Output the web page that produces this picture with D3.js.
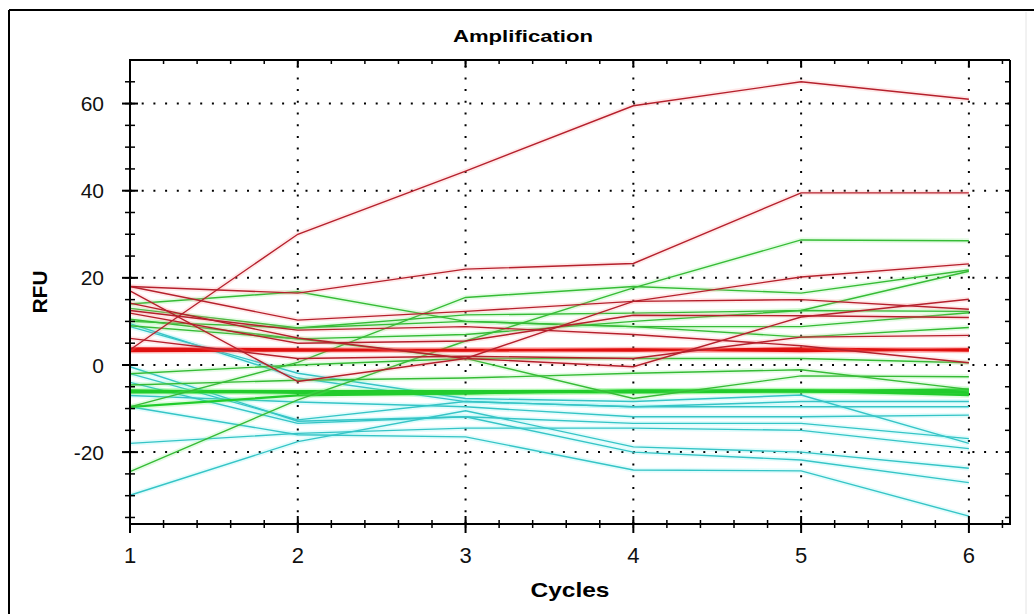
<!DOCTYPE html>
<html><head><meta charset="utf-8">
<script src="https://cdn.jsdelivr.net/npm/d3@7"></script>
<style>html,body{margin:0;padding:0;background:#fff;}svg{display:block;}</style>
</head><body>
<script>
// ---- data ----
const cycles = [1, 2, 3, 4, 5, 6];
const xTickLabels = ["1", "2", "3", "4", "5", "6"];
const yTickValues = [-20, 0, 20, 40, 60];
const title = "Amplification";
const xLabel = "Cycles";
const yLabel = "RFU";

const redLines = [
  [3.5, 30, 44.5, 59.5, 65, 61],
  [18, 16.5, 22, 23.3, 39.5, 39.5],
  [17, -3.8, 1.5, 14.6, 20.2, 23.2],
  [18, 10.3, 12.3, 14.6, 15, 12.8],
  [14.2, 6.2, 1.5, -0.4, 11, 15.1],
  [11.9, 5, 5.5, 11.4, 11.3, 10.9],
  [6.1, 1.5, 2, 1.5, 6.4, 6.8],
  [12.5, 8, 8.8, 7, 4.4, 0.5]
];
const redBundle = [
  [3.5, 3.5, 3.5, 3.5, 3.4, 3.5],
  [3.2, 3.3, 3.4, 3.3, 3.8, 3.3],
  [3.8, 3.6, 3.3, 3.6, 3.2, 3.6]
];
const greenLines = [
  [-24.5, -8, 5.5, 17.7, 28.7, 28.5],
  [14, 16.8, 10, 8.8, 6.4, 8.6],
  [-9.6, 0.6, 15.5, 18, 16.5, 21.8],
  [10, 8.5, 11.5, 11.9, 12.5, 21.5],
  [9, 6, 7, 10, 12.5, 12.3],
  [13, 8.5, 10, 8.8, 8.8, 12],
  [10.5, 6, 1.5, -7.7, -2.5, -2.7],
  [-2, 0, 1.5, 1.5, 1.5, 0.5],
  [-4.6, -3.5, -3, -1.9, -1.1, -5.6]
];
const greenBundle = [
  [-6, -6, -6, -6, -6, -5.6],
  [-6.3, -6.2, -6.1, -6.3, -6.1, -6.4],
  [-5.8, -6.4, -6.5, -5.8, -5.9, -6.9],
  [-9.6, -7, -6.5, -6, -5.8, -6]
];
const cyanLines = [
  [8.8, -1.9, -7.7, -8.4, -6.9, -18],
  [9.5, -3, -8.4, -9.6, -8.4, -8.4],
  [-7, -8.5, -9.6, -11.9, -11.9, -11.5],
  [-4, -13.4, -11.9, -13.4, -13.4, -16.9],
  [-18, -15.7, -14.5, -14.5, -15, -19.2],
  [-29.9, -17.6, -10.5, -18.8, -20, -23.7],
  [-0.4, -12.9, -11.9, -20, -21.8, -27],
  [-9.6, -16, -16.5, -24.1, -24.3, -34.7],
  [-2, -12.6, -8.4, -9.6, -9.6, -9.6]
];

// ---- layout ----
const W = 1034, H = 614;
const L = 130, R = 1010, T = 60, B = 524;
const svg = d3.select("body").append("svg").attr("width", W).attr("height", H);
svg.append("rect").attr("width", W).attr("height", H).attr("fill", "#fff");

// outer border
svg.append("line").attr("x1", 9).attr("x2", 9).attr("y1", 10).attr("y2", H).attr("stroke", "#000").attr("stroke-width", 2);
svg.append("line").attr("x1", 9).attr("x2", W).attr("y1", 10).attr("y2", 10).attr("stroke", "#000").attr("stroke-width", 2);
svg.append("line").attr("x1", 1026).attr("x2", 1026).attr("y1", 12).attr("y2", H).attr("stroke", "#e4e4e4").attr("stroke-width", 1);

const x = d3.scaleLinear().domain([1, 6.245]).range([L, R]);
const y = d3.scaleLinear().domain([-36.5, 70]).range([B, T]);

// grid (dotted)
const grid = svg.append("g");
grid.selectAll("line.gy").data(yTickValues).join("line")
  .attr("x1", L).attr("x2", R).attr("y1", d => y(d)).attr("y2", d => y(d))
  .attr("stroke", "#000").attr("stroke-width", 2).attr("stroke-dasharray", "2 9.7");
grid.selectAll("line.gx").data(cycles.slice(1)).join("line")
  .attr("y1", B).attr("y2", T).attr("x1", d => x(d)).attr("x2", d => x(d))
  .attr("stroke", "#000").attr("stroke-width", 2).attr("stroke-dasharray", "2 9.7");

// lines
const line = d3.line().x((d, i) => x(cycles[i])).y(d => y(d));
function drawSet(data, color, halo, w) {
  const g = svg.append("g").attr("fill", "none");
  g.selectAll("path.h").data(data).join("path").attr("d", line)
    .attr("stroke", halo).attr("stroke-width", w + 3.5).attr("stroke-opacity", 0.2);
  g.selectAll("path.c").data(data).join("path").attr("d", line)
    .attr("stroke", color).attr("stroke-width", w);
}
drawSet(cyanLines, "#35c4c6", "#6ff0f2", 1.4);
drawSet(greenBundle, "#22cc2c", "#60f060", 2.2);
drawSet(greenLines, "#36bb36", "#78ee78", 1.4);
drawSet(redBundle, "#e0100f", "#ff6060", 2.2);
drawSet(redLines, "#b5202c", "#ff8f8f", 1.4);

// frame
const frame = svg.append("g").attr("stroke", "#000").attr("stroke-width", 2);
frame.append("line").attr("x1", L).attr("x2", R).attr("y1", T).attr("y2", T);
frame.append("line").attr("x1", R).attr("x2", R).attr("y1", T).attr("y2", B);

// axes
const xMinor = d3.range(1, 6.25, 0.2);
const yMinor = d3.range(-35, 70, 5);
const ax = svg.append("g").attr("stroke", "#000");
ax.append("line").attr("x1", L).attr("x2", R + 1).attr("y1", B).attr("y2", B).attr("stroke-width", 2);
ax.append("line").attr("x1", L).attr("x2", L).attr("y1", T - 1).attr("y2", B + 1).attr("stroke-width", 2);
// bottom ticks
ax.selectAll("line.xm").data(xMinor).join("line")
  .attr("x1", d => x(d)).attr("x2", d => x(d)).attr("y1", B - 4).attr("y2", B + 4).attr("stroke-width", 1.5);
ax.selectAll("line.xM").data(cycles).join("line")
  .attr("x1", d => x(d)).attr("x2", d => x(d)).attr("y1", B - 8).attr("y2", B + 9).attr("stroke-width", 2);
// top ticks
ax.selectAll("line.xt").data(xMinor).join("line")
  .attr("x1", d => x(d)).attr("x2", d => x(d)).attr("y1", T).attr("y2", T + 4).attr("stroke-width", 1.5);
ax.selectAll("line.xT").data(cycles).join("line")
  .attr("x1", d => x(d)).attr("x2", d => x(d)).attr("y1", T).attr("y2", T + 7).attr("stroke-width", 2);
// left ticks
ax.selectAll("line.ym").data(yMinor).join("line")
  .attr("x1", L - 5).attr("x2", L + 5).attr("y1", d => y(d)).attr("y2", d => y(d)).attr("stroke-width", 1.5);
ax.selectAll("line.yM").data(yTickValues).join("line")
  .attr("x1", L - 8).attr("x2", L + 8).attr("y1", d => y(d)).attr("y2", d => y(d)).attr("stroke-width", 2);
// right ticks
ax.selectAll("line.yr").data(yMinor).join("line")
  .attr("x1", R - 5).attr("x2", R).attr("y1", d => y(d)).attr("y2", d => y(d)).attr("stroke-width", 1.5);

// labels
const font = "'Liberation Sans', Arial, sans-serif";
svg.append("g").selectAll("text").data(yTickValues).join("text")
  .attr("x", 104).attr("y", d => y(d)).attr("dy", "0.36em")
  .attr("text-anchor", "end").attr("font-family", font).attr("font-size", 21)
  .attr("fill", "#111").text(d => String(d));
svg.append("g").selectAll("text").data(cycles).join("text")
  .attr("x", d => x(d)).attr("y", 563)
  .attr("text-anchor", "middle").attr("font-family", font).attr("font-size", 22)
  .attr("fill", "#111").text((d, i) => xTickLabels[i]);

svg.append("text").attr("x", 523).attr("y", 42).attr("text-anchor", "middle")
  .attr("font-family", font).attr("font-weight", "bold").attr("font-size", 16)
  .attr("textLength", 140).attr("lengthAdjust", "spacingAndGlyphs").text(title);
svg.append("text").attr("x", 570).attr("y", 597).attr("text-anchor", "middle")
  .attr("font-family", font).attr("font-weight", "bold").attr("font-size", 21)
  .attr("textLength", 79).attr("lengthAdjust", "spacingAndGlyphs").text(xLabel);
svg.append("text").attr("transform", "translate(47,292) rotate(-90)").attr("text-anchor", "middle")
  .attr("font-family", font).attr("font-weight", "bold").attr("font-size", 20)
  .attr("textLength", 43).attr("lengthAdjust", "spacingAndGlyphs").text(yLabel);
</script>
</body></html>
